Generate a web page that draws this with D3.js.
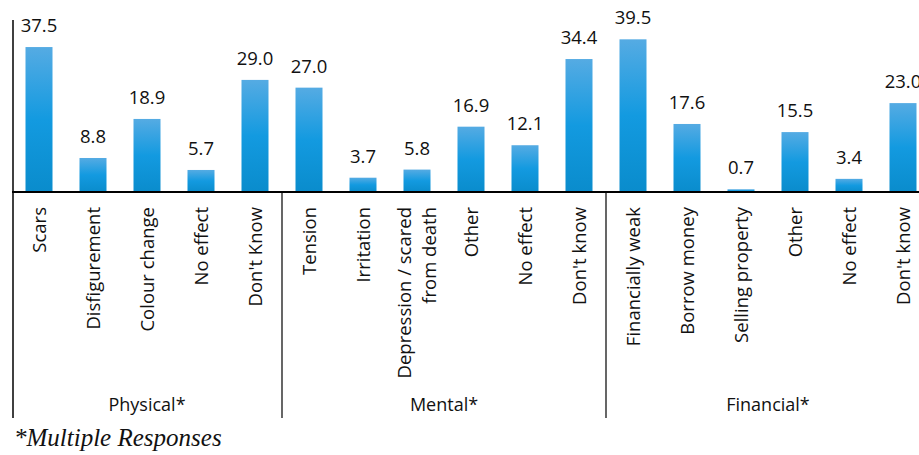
<!DOCTYPE html>
<html>
<head>
<meta charset="utf-8">
<script src="https://cdn.jsdelivr.net/npm/d3@7"></script>
<style>
  body { margin: 0; background: #fff; }
  svg { display: block; }
</style>
</head>
<body>
<div id="chart"></div>
<script>
// categories, in order, with the group each one belongs to
const categories = [
  "Scars", "Disfigurement", "Colour change", "No effect", "Don't Know",
  "Tension", "Irritation", "Depression / scared|from death", "Other", "No effect", "Don't know",
  "Financially weak", "Borrow money", "Selling property", "Other", "No effect", "Don't know"
];
const groups = ["Physical*", "Mental*", "Financial*"];
const groupStart = [0, 5, 11];
const groupEnd = [5, 11, 17];
const values = [37.5, 8.8, 18.9, 5.7, 29.0, 27.0, 3.7, 5.8, 16.9, 12.1, 34.4, 39.5, 17.6, 0.7, 15.5, 3.4, 23.0];

const W = 919, H = 455;
const baseY = 192;
const bottomY = 418;
const font = "'Open Sans', sans-serif";

const svg = d3.select("#chart").append("svg")
    .attr("width", W)
    .attr("height", H);

const grad = svg.append("defs").append("linearGradient")
    .attr("id", "barGrad")
    .attr("x1", 0).attr("y1", 0).attr("x2", 0).attr("y2", 1);
grad.append("stop").attr("offset", "0%").attr("stop-color", "#55abe3");
grad.append("stop").attr("offset", "50%").attr("stop-color", "#139ae0");
grad.append("stop").attr("offset", "100%").attr("stop-color", "#0a8ccc");

const ids = categories.map((d, i) => i);

const x = d3.scaleBand()
    .domain(ids)
    .range([12, 930])
    .paddingInner(0.5)
    .paddingOuter(0.25);

const y = d3.scaleLinear()
    .domain([0, 44.5])
    .range([baseY, 20]);

// bars
svg.selectAll(".bar")
    .data(values)
    .enter().append("rect")
    .attr("class", "bar")
    .attr("x", (d, i) => x(i))
    .attr("y", d => y(d))
    .attr("width", x.bandwidth())
    .attr("height", d => y(0) - y(d))
    .attr("fill", "url(#barGrad)");

// value labels
svg.selectAll(".val")
    .data(values)
    .enter().append("text")
    .attr("class", "val")
    .attr("x", (d, i) => x(i) + x.bandwidth() / 2)
    .attr("y", d => y(d) - 15)
    .attr("text-anchor", "middle")
    .style("font-family", font)
    .style("font-size", "18.5px")
    .attr("fill", "#111")
    .text(d => d.toFixed(1));

// axis lines
svg.append("line")
    .attr("x1", 13).attr("x2", 13)
    .attr("y1", 20).attr("y2", bottomY)
    .attr("stroke", "#000").attr("stroke-width", 1.5);
svg.append("line")
    .attr("x1", 12).attr("x2", W)
    .attr("y1", baseY).attr("y2", baseY)
    .attr("stroke", "#000").attr("stroke-width", 2);

// group separators
svg.selectAll(".sep")
    .data([5, 11])
    .enter().append("line")
    .attr("x1", d => x.step() * d + 12)
    .attr("x2", d => x.step() * d + 12)
    .attr("y1", baseY).attr("y2", bottomY)
    .attr("stroke", "#000").attr("stroke-width", 1.2);

// category labels, rotated, split on "|" for two lines
svg.selectAll(".cat")
    .data(categories)
    .enter().append("text")
    .attr("class", "cat")
    .attr("transform", (d, i) => `translate(${x(i) + x.bandwidth() / 2},207) rotate(-90)`)
    .attr("text-anchor", "end")
    .style("font-family", font)
    .style("font-size", "18.5px")
    .attr("fill", "#111")
    .each(function (d) {
        const lines = d.split("|");
        const off = (lines.length - 1) * 0.68;
        lines.forEach((ln, k) => {
            d3.select(this).append("tspan")
                .attr("x", 0)
                .attr("y", 0)
                .attr("dy", (0.36 - off + k * 1.36) + "em")
                .text(ln);
        });
    });

// group labels
svg.selectAll(".grp")
    .data(groups)
    .enter().append("text")
    .attr("class", "grp")
    .attr("x", (d, i) => 12 + x.step() * (groupStart[i] + groupEnd[i]) / 2)
    .attr("y", 411)
    .attr("text-anchor", "middle")
    .style("font-family", font)
    .style("font-size", "18px")
    .attr("fill", "#111")
    .text(d => d);

// footnote
svg.append("text")
    .attr("x", 14)
    .attr("y", 446)
    .style("font-family", "'Liberation Serif', 'Times New Roman', serif")
    .style("font-style", "italic")
    .style("font-size", "25px")
    .attr("fill", "#111")
    .text("*Multiple Responses");
</script>
</body>
</html>
